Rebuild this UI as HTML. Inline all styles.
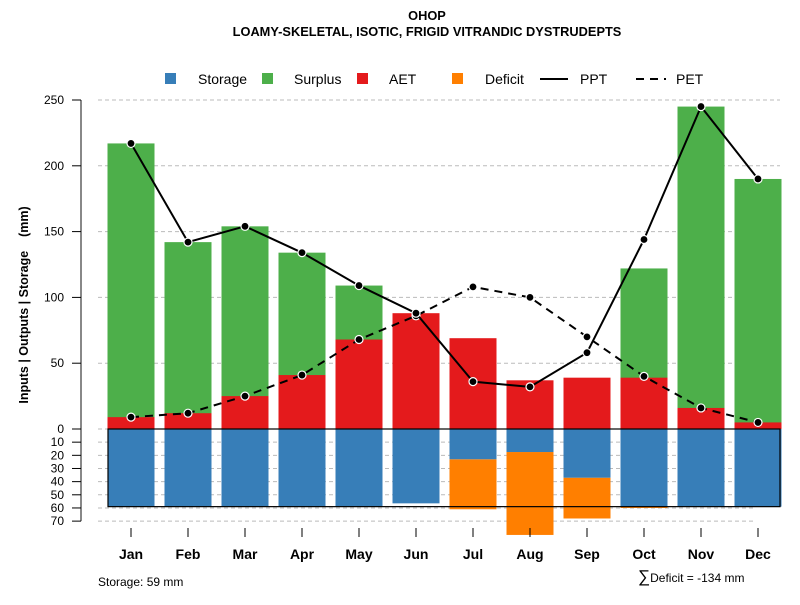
<!DOCTYPE html>
<html><head><meta charset="utf-8"><style>
body{margin:0;background:#fff;font-family:"Liberation Sans",Arial,sans-serif}
svg text{font-family:"Liberation Sans",Arial,sans-serif}
</style></head><body>
<svg id="chart" width="800" height="600" xmlns="http://www.w3.org/2000/svg">
<text x="427" y="20" text-anchor="middle" font-size="12.8" font-weight="bold">OHOP</text>
<text x="427" y="36" text-anchor="middle" font-size="12.8" font-weight="bold">LOAMY-SKELETAL, ISOTIC, FRIGID VITRANDIC DYSTRUDEPTS</text>
<g id="grid"></g>
<g id="bars"></g>
<g id="lines"></g>
<g id="axes"></g>
<g font-size="14">
 <rect x="165" y="73" width="11" height="11" fill="#377eb8"/>
 <text x="198" y="84">Storage</text>
 <rect x="262" y="73" width="11" height="11" fill="#4daf4a"/>
 <text x="294" y="84">Surplus</text>
 <rect x="357" y="73" width="11" height="11" fill="#e41a1c"/>
 <text x="389" y="84">AET</text>
 <rect x="452" y="73" width="11" height="11" fill="#ff7f00"/>
 <text x="485" y="84">Deficit</text>
 <line x1="540" y1="79" x2="568" y2="79" stroke="#000" stroke-width="2"/>
 <text x="580" y="84">PPT</text>
 <line x1="636" y1="79" x2="666" y2="79" stroke="#000" stroke-width="2" stroke-dasharray="8,6"/>
 <text x="676" y="84">PET</text>
</g>
<text transform="translate(28,305) rotate(-90)" text-anchor="middle" font-size="12.5" font-weight="bold" xml:space="preserve" style="white-space:pre">Inputs | Outputs | Storage    (mm)</text>
<text x="98" y="586" font-size="12">Storage: 59 mm</text>
<text x="638" y="582" font-size="12"><tspan font-size="17">∑</tspan>Deficit = -134 mm</text>
</svg>
<script>
const months=["Jan","Feb","Mar","Apr","May","Jun","Jul","Aug","Sep","Oct","Nov","Dec"];
const ppt=[217,142,154,134,109,88,36,32,58,144,245,190];
const pet=[9,12,25,41,68,86,108,100,70,40,16,5];
const aet=[9,12,25,41,68,88,69,37,39,39,16,5];
const surplusTop=[217,142,154,134,109,0,0,0,0,122,245,190];
const storage=[59,59,59,59,59,56.5,23,17.5,37,59,59,59];
const deficitBottom=[0,0,0,0,0,0,61,80.5,68,60,0,0];
const upperTicks=[0,50,100,150,200,250];
const lowerTicks=[10,20,30,40,50,60,70];
const capacity=59;
const NS="http://www.w3.org/2000/svg";
const y0=429,k=1.316;
function yU(v){return y0-v*k;}
function yL(v){return y0+v*k;}
function xC(i){return 131+i*57;}
const bw=47;
function mk(tag,at,parent){const e=document.createElementNS(NS,tag);for(const a in at)e.setAttribute(a,at[a]);document.getElementById(parent).appendChild(e);return e;}
upperTicks.forEach(t=>{if(t===0)return;
 const l=mk('line',{x1:98,x2:780,y1:yU(t),y2:yU(t),stroke:'#bbb','stroke-dasharray':'4,3'},'grid');
 
 });
[0].concat(lowerTicks).forEach(t=>{
 const l=mk('line',{x1:98,x2:755,y1:yL(t),y2:yL(t),stroke:'#bbb','stroke-dasharray':'4,3'},'grid');
 
 });
months.forEach((m,i)=>{
 const x=xC(i)-bw/2;
 if(surplusTop[i]>0){const r=mk('rect',{x:x,y:yU(surplusTop[i]),width:bw,height:surplusTop[i]*k,fill:'#4daf4a'},'bars');
  
  }
 const a=mk('rect',{x:x,y:yU(aet[i]),width:bw,height:aet[i]*k,fill:'#e41a1c'},'bars');
 
 
 if(deficitBottom[i]>0){const d=mk('rect',{x:x,y:yL(storage[i]),width:bw,height:(deficitBottom[i]-storage[i])*k,fill:'#ff7f00'},'bars');
  
  }
 const s=mk('rect',{x:x,y:y0,width:bw,height:storage[i]*k,fill:'#377eb8'},'bars');
 
 
});
const box=mk('rect',{x:108,y:y0,width:672,height:capacity*k,fill:'none',stroke:'#000','stroke-width':1.2},'bars');


function series(vals,name,dash){
 const pts=vals.map((v,i)=>xC(i)+','+yU(v)).join(' ');
 const p=mk('polyline',{points:pts,fill:'none',stroke:'#000','stroke-width':2,'stroke-dasharray':dash},'lines');
 
 
 vals.forEach((v,i)=>{const c=mk('circle',{cx:xC(i),cy:yU(v),r:4,fill:'#000',stroke:'#fff','stroke-width':1.2},'lines');
  
  });
}
series(pet,'pet','8,6');
series(ppt,'ppt','none');
const ax=mk('line',{x1:81,x2:81,y1:yU(250),y2:yL(70),stroke:'#888','stroke-width':2},'axes');


upperTicks.forEach(t=>{
 const tk=mk('line',{x1:72,x2:81,y1:yU(t),y2:yU(t),stroke:'#000'},'axes');
 
 
 const tx=mk('text',{x:64,y:yU(t)+4,'text-anchor':'end','font-size':12},'axes');tx.textContent=t;
 
 });
lowerTicks.forEach(t=>{
 const tk=mk('line',{x1:72,x2:81,y1:yL(t),y2:yL(t),stroke:'#000'},'axes');
 
 
 const tx=mk('text',{x:64,y:yL(t)+4,'text-anchor':'end','font-size':12},'axes');tx.textContent=t;
 
 });
months.forEach((m,i)=>{
 const tk=mk('line',{x1:xC(i),x2:xC(i),y1:528,y2:537,stroke:'#000'},'axes');
 
 
 const tx=mk('text',{x:xC(i),y:559,'text-anchor':'middle','font-size':14,'font-weight':'bold'},'axes');tx.textContent=m;
 
 });
</script>
</body></html>
